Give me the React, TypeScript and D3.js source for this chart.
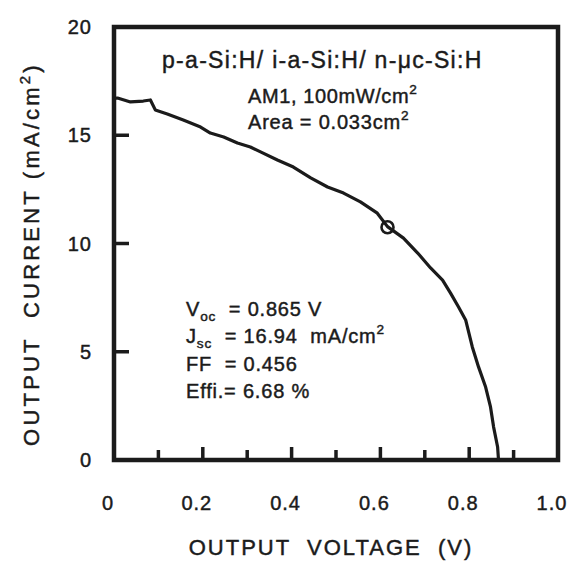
import { useEffect, useRef } from 'react';
import * as d3 from 'd3';

// J-V curve (V in volts, J in mA/cm2)
const voltage = [
  0, 0.008, 0.037, 0.066, 0.082, 0.093, 0.12, 0.156, 0.195, 0.217, 0.247, 0.278,
  0.307, 0.33, 0.368, 0.404, 0.443, 0.481, 0.517, 0.555, 0.593, 0.616, 0.652,
  0.684, 0.713, 0.74, 0.758, 0.776, 0.792, 0.807, 0.821, 0.837, 0.848, 0.855,
  0.864, 0.866,
];
const current = [
  16.7, 16.72, 16.54, 16.58, 16.63, 16.17, 15.98, 15.7, 15.38, 15.1, 14.92, 14.64,
  14.46, 14.23, 13.86, 13.53, 13.03, 12.61, 12.33, 11.92, 11.4, 10.78, 10.25,
  9.56, 8.87, 8.31, 7.71, 7.07, 6.47, 5.22, 4.3, 3.37, 2.45, 1.52,
  0.6, 0,
];

// maximum power point marker
const mppVoltage = [0.616];
const mppCurrent = [10.75];

const xTickValues = [0, 0.2, 0.4, 0.6, 0.8, 1.0];
const xTickLabels = ['0', '0.2', '0.4', '0.6', '0.8', '1.0'];
const xInnerTicks = [0.1, 0.2, 0.3, 0.4, 0.5, 0.6, 0.7, 0.8, 0.9];
const yTickValues = [0, 5, 10, 15, 20];
const yTickLabels = ['0', '5', '10', '15', '20'];
const yInnerTicks = [5, 10, 15];

const FONT = '"Liberation Sans", Arial, Helvetica, sans-serif';
const INK = '#1b1b1b';

type Part = { text: string; sub?: boolean; sup?: boolean };

function richText(
  g: any, x: number, y: number, size: number, spacing: number, parts: Part[],
) {
  const t = g.append('text')
    .attr('x', x)
    .attr('y', y)
    .attr('font-size', size)
    .attr('letter-spacing', spacing)
    .style('white-space', 'pre');
  let shift = 0;
  parts.forEach(p => {
    const target = p.sub ? 5 : p.sup ? -9 : 0;
    const ts = t.append('tspan').text(p.text).attr('dy', target - shift);
    if (p.sub || p.sup) ts.attr('font-size', size * 0.68);
    shift = target;
  });
  return t;
}

export default function App() {
  const svgRef = useRef<SVGSVGElement>(null);

  useEffect(() => {
    if (!svgRef.current) return;
    const svg = d3.select(svgRef.current);
    svg.selectAll('*').remove();

    const x = d3.scaleLinear().domain([0, 1]).range([114, 558]);
    const y = d3.scaleLinear().domain([0, 20]).range([460, 27]);

    // scanned text looks a bit heavy, so give the glyphs a thin outline
    const g = svg.append('g')
      .attr('font-family', FONT)
      .attr('fill', INK)
      .attr('stroke', INK)
      .attr('stroke-width', 0.45);

    // frame
    g.append('rect')
      .attr('x', x(0))
      .attr('y', y(20))
      .attr('width', x(1) - x(0))
      .attr('height', y(0) - y(20))
      .attr('fill', 'none')
      .attr('stroke', INK)
      .attr('stroke-width', 4.5);

    // inward ticks on the bottom axis
    g.selectAll('.xtick')
      .data(xInnerTicks)
      .enter()
      .append('line')
      .attr('x1', d => x(d))
      .attr('x2', d => x(d))
      .attr('y1', y(0))
      .attr('y2', (d, i) => y(0) - (i % 2 === 1 ? 13 : 10))
      .attr('stroke', INK)
      .attr('stroke-width', 3.5);

    // inward ticks on the left axis
    g.selectAll('.ytick')
      .data(yInnerTicks)
      .enter()
      .append('line')
      .attr('x1', x(0))
      .attr('x2', x(0) + 15)
      .attr('y1', d => y(d))
      .attr('y2', d => y(d))
      .attr('stroke', INK)
      .attr('stroke-width', 3.5);

    // tick labels
    g.selectAll('.xlabel')
      .data(xTickValues)
      .enter()
      .append('text')
      .attr('x', d => x(d) - 6)
      .attr('y', 510)
      .attr('text-anchor', 'middle')
      .attr('font-size', 20)
      .attr('letter-spacing', 1)
      .text((d, i) => xTickLabels[i]);

    g.selectAll('.ylabel')
      .data(yTickValues)
      .enter()
      .append('text')
      .attr('x', 92)
      .attr('y', d => y(d) + 7)
      .attr('text-anchor', 'end')
      .attr('font-size', 20)
      .attr('letter-spacing', 1)
      .text((d, i) => yTickLabels[i]);

    // axis titles
    g.append('text')
      .attr('x', 331)
      .attr('y', 555)
      .attr('text-anchor', 'middle')
      .attr('font-size', 22)
      .attr('letter-spacing', 2)
      .style('white-space', 'pre')
      .text('OUTPUT  VOLTAGE  (V)');

    const yTitle = richText(g, 0, 0, 22, 3.2, [
      { text: 'OUTPUT  CURRENT (mA/cm' },
      { text: '2', sup: true },
      { text: ')' },
    ]);
    yTitle
      .attr('text-anchor', 'middle')
      .attr('transform', 'translate(39,254) rotate(-90)');

    // curve
    const pts = voltage.map((v, i) => [v, current[i]] as [number, number]);
    const line = d3.line<[number, number]>()
      .x(d => x(d[0]))
      .y(d => y(d[1]));

    g.append('path')
      .datum(pts)
      .attr('d', line)
      .attr('fill', 'none')
      .attr('stroke', INK)
      .attr('stroke-width', 3.2)
      .attr('stroke-linejoin', 'round')
      .attr('stroke-linecap', 'round');

    g.selectAll('.mpp')
      .data(mppVoltage)
      .enter()
      .append('circle')
      .attr('cx', d => x(d))
      .attr('cy', (d, i) => y(mppCurrent[i]))
      .attr('r', 6)
      .attr('fill', 'none')
      .attr('stroke', INK)
      .attr('stroke-width', 2.6);

    // device annotation
    richText(g, 162, 68, 23, 1.3, [{ text: 'p-a-Si:H/ i-a-Si:H/ n-\u03bcc-Si:H' }]);
    richText(g, 248, 103, 20, 0.6, [
      { text: 'AM1, 100mW/cm' },
      { text: '2', sup: true },
    ]);
    richText(g, 248, 129, 20, 0.8, [
      { text: 'Area = 0.033cm' },
      { text: '2', sup: true },
    ]);

    // cell parameters
    richText(g, 186, 316, 20, 0.8, [
      { text: 'V' },
      { text: 'oc', sub: true },
      { text: '  = 0.865 V' },
    ]);
    richText(g, 186, 343, 20, 0.8, [
      { text: 'J' },
      { text: 'sc', sub: true },
      { text: '  = 16.94  mA/cm' },
      { text: '2', sup: true },
    ]);
    richText(g, 186, 371, 20, 0.8, [{ text: 'FF  = 0.456' }]);
    richText(g, 186, 398, 20, 0.8, [{ text: 'Effi.= 6.68 %' }]);
  }, []);

  return (
    <svg
      ref={svgRef}
      width={577}
      height={562}
      style={{ position: 'absolute', left: 0, top: 0, background: '#fff' }}
    />
  );
}
